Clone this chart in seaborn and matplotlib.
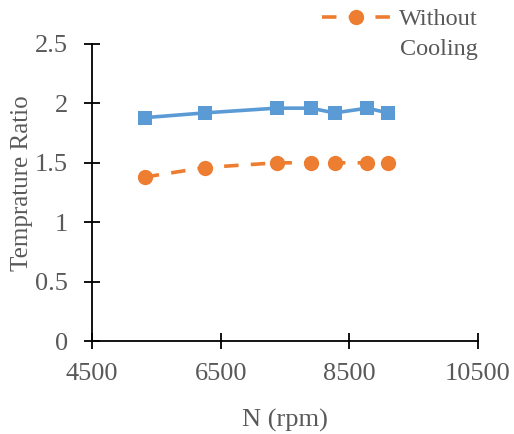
import matplotlib
matplotlib.use("Agg")
import matplotlib.pyplot as plt
import seaborn as sns
import pandas as pd
from matplotlib.lines import Line2D

# Data
rpm = [5320, 6250, 7370, 7900, 8270, 8780, 9100]
with_cooling = [1.88, 1.92, 1.96, 1.96, 1.92, 1.96, 1.92]
without_cooling = [1.38, 1.46, 1.50, 1.50, 1.50, 1.50, 1.50]
legend_lines = ["Without", "Cooling"]
x_ticks = [4500, 6500, 8500, 10500]
y_ticks = [0, 0.5, 1, 1.5, 2, 2.5]
x_label = "N (rpm)"
y_label = "Temprature Ratio"

blue = "#5B9BD5"
orange = "#ED7D31"
gray = "#595959"

sns.set_theme(style="white")
plt.rcParams["font.family"] = ["Liberation Serif", "DejaVu Serif"]

df_with = pd.DataFrame({"N": rpm, "T": with_cooling})
df_without = pd.DataFrame({"N": rpm, "T": without_cooling})

fig = plt.figure(figsize=(5.14, 4.34), dpi=100)
ax = fig.add_axes([92 / 514, 1 - 341 / 434, (478 - 92) / 514, (341 - 44) / 434])

sns.lineplot(data=df_with, x="N", y="T", ax=ax, color=blue, linewidth=2.6,
             marker="s", markersize=10, markeredgewidth=0, legend=False)
sns.lineplot(data=df_without, x="N", y="T", ax=ax, color=orange, linewidth=2.6,
             marker="o", markersize=11, markeredgewidth=0, legend=False)
ax.lines[1].set_dashes((4.0, 3.4))

ax.set_xlim(x_ticks[0], x_ticks[-1])
ax.set_ylim(y_ticks[0], y_ticks[-1])
ax.set_xticks(x_ticks)
ax.set_yticks(y_ticks)
ax.set_yticklabels([f"{v:g}" for v in y_ticks])

for s in ["top", "right"]:
    ax.spines[s].set_visible(False)
for s in ["left", "bottom"]:
    ax.spines[s].set_color("black")
    ax.spines[s].set_linewidth(1.3)

ax.tick_params(axis="both", bottom=True, left=True, direction="inout",
               length=11.5, width=1.3, color="black", labelsize=19,
               labelcolor=gray)
ax.tick_params(axis="y", pad=11.5)
ax.tick_params(axis="x", pad=10.3)

ax.set_xlabel(x_label, fontsize=19, color=gray, labelpad=17)
ax.set_ylabel(y_label, fontsize=18, color=gray)
ax.yaxis.set_label_coords(-0.153, 0.53)

handle = Line2D([], [], color=orange, linewidth=2.6, dashes=(4.0, 3.4),
                marker="o", markersize=11, markeredgewidth=0)
leg = fig.legend([handle], [legend_lines[0]], loc="upper left",
                 bbox_to_anchor=(322 / 514, 1 - 8 / 434), frameon=False,
                 fontsize=17.5, handlelength=2.8, handletextpad=0.35,
                 borderpad=0, borderaxespad=0)
for t in leg.get_texts():
    t.set_color(gray)
fig.text(400 / 514, 1 - 55 / 434, legend_lines[1], fontsize=17.5, color=gray,
         ha="left", va="baseline")

fig.savefig("out.png", dpi=100)
